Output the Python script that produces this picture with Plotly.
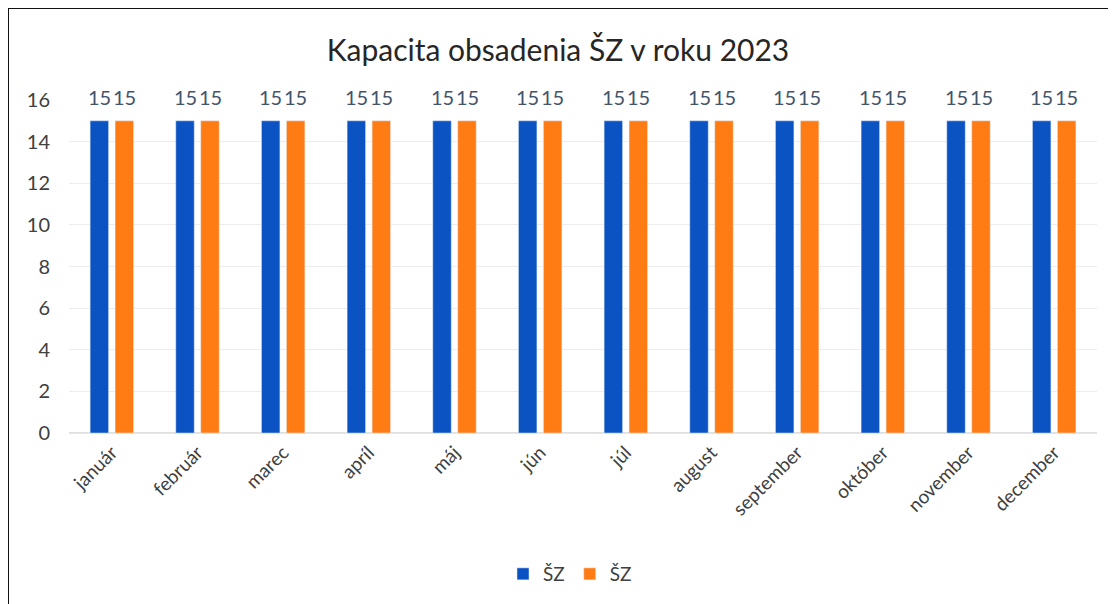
import plotly.graph_objects as go

months = ["január", "február", "marec", "apríl", "máj", "jún", "júl", "august",
          "september", "október", "november", "december"]
series1_name = "ŠZ"
series2_name = "ŠZ"
series1 = [15] * 12
series2 = [15] * 12
y_ticks = [0, 2, 4, 6, 8, 10, 12, 14, 16]

FONT = "Lato, Open Sans, sans-serif"
# the page body has an 8px margin, so the figure is drawn 8px smaller and shifted
OFF = 8
W, H = 1116 - OFF, 604 - OFF
ml, mr, mt, mb = 69 - OFF, 19, 100 - OFF, 171
pw, ph = W - ml - mr, H - mt - mb


def px_x(x):
    return (x - OFF - ml) / pw


def px_y(y):
    return (H - mb - (y - OFF)) / ph


fig = go.Figure()
fig.add_trace(go.Bar(x=months, y=series1, name=series1_name, marker_color="#0B52C2"))
fig.add_trace(go.Bar(x=months, y=series2, name=series2_name, marker_color="#FF7B14"))

annotations = []
for vals, shift in ((series1, -12.5), (series2, 12.5)):
    for m, v in zip(months, vals):
        annotations.append(dict(x=m, y=v, xref="x", yref="y", text=str(v), showarrow=False,
                                xshift=shift, yanchor="bottom", yshift=10,
                                font=dict(size=20, color="#44546A", family=FONT)))

fig.update_layout(
    width=W, height=H,
    margin=dict(l=ml, r=mr, t=mt, b=mb, autoexpand=False),
    paper_bgcolor="white", plot_bgcolor="white",
    font=dict(family=FONT, color="#404040"),
    title=dict(text="Kapacita obsadenia ŠZ v roku 2023", x=(558 - OFF) / W, xanchor="center",
               y=1 - (50 - OFF) / H, yanchor="middle",
               font=dict(size=30, color="#262626", family=FONT)),
    barmode="group", bargap=0.417, bargroupgap=0.26,
    showlegend=True,
    legend=dict(orientation="h", x=px_x(570), xanchor="center", y=px_y(574), yanchor="middle",
                font=dict(size=19, color="#404040", family=FONT),
                traceorder="normal", itemwidth=30),
    xaxis=dict(tickangle=-45, tickfont=dict(size=19, color="#404040", family=FONT),
               showgrid=False, showline=True, linecolor="#E6E6E6", ticks="", automargin=False),
    yaxis=dict(range=[0, 16], tickvals=y_ticks, tickfont=dict(size=20, color="#404040", family=FONT),
               showgrid=True, gridcolor="#EDEDED", zeroline=True, zerolinecolor="#E0E0E0",
               ticks="", ticklabelstandoff=18, automargin=False),
    annotations=annotations,
    shapes=[dict(type="rect", xref="paper", yref="paper",
                 x0=px_x(8), x1=px_x(1112), y0=px_y(640), y1=px_y(8),
                 line=dict(color="#111111", width=2), fillcolor="rgba(0,0,0,0)", layer="above")],
)

fig.write_html("out.html")
